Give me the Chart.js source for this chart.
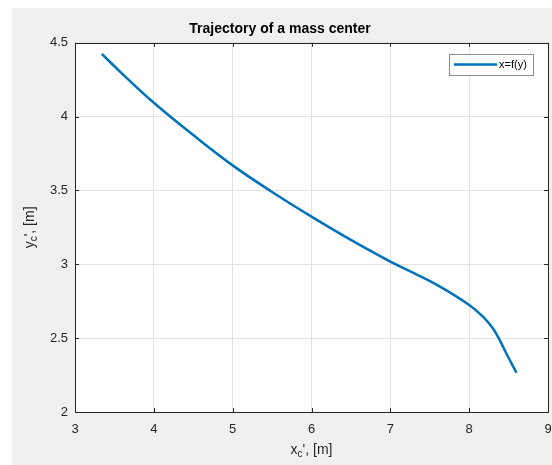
<!DOCTYPE html>
<html>
<head>
<meta charset="utf-8">
<script src="https://cdn.jsdelivr.net/npm/chart.js@4.4.1/dist/chart.umd.min.js"></script>
<style>
  html, body { margin: 0; padding: 0; background: #ffffff; }
  #wrap { width: 552px; height: 465px; }
</style>
</head>
<body>
<div id="wrap"><canvas id="traj" width="552" height="465"></canvas></div>
<script>
// datos
var xc = [3.34, 3.6, 4.0, 4.5, 5.0, 5.5, 6.0, 6.5, 7.0, 7.3, 7.63, 8.0, 8.175, 8.3, 8.386, 8.47, 8.6];
var yc = [4.425, 4.29, 4.094, 3.875, 3.67, 3.49, 3.323, 3.165, 3.018, 2.94, 2.849, 2.725, 2.646, 2.567, 2.488, 2.398, 2.266];
var xTicks = [3, 4, 5, 6, 7, 8, 9];
var yTicks = [2, 2.5, 3, 3.5, 4, 4.5];
var serieLabel = 'x=f(y)';
var titulo = 'Trajectory of a mass center';

var azul = '#0072BD';
var ejes = '#262626';
var fuente = "'Liberation Sans', Arial, sans-serif";

var puntos = xc.map(function(v, i){ return {x: v, y: yc[i]}; });

// texto con subindice: "x" + "c" + "', [m]"
function textoSub(ctx, base, sub, resto, x, y, size){
  ctx.font = size + "px " + fuente;
  var w1 = ctx.measureText(base).width;
  var w3 = ctx.measureText(resto).width;
  ctx.font = Math.round(size*0.72) + "px " + fuente;
  var w2 = ctx.measureText(sub).width;
  var total = w1 + w2 + w3;
  var x0 = x - total/2;
  ctx.textAlign = 'left';
  ctx.textBaseline = 'middle';
  ctx.font = size + "px " + fuente;
  ctx.fillText(base, x0, y);
  ctx.font = Math.round(size*0.72) + "px " + fuente;
  ctx.fillText(sub, x0 + w1, y + size*0.3);
  ctx.font = size + "px " + fuente;
  ctx.fillText(resto, x0 + w1 + w2, y);
}

var estiloMatlab = {
  id: 'estiloMatlab',
  beforeDraw: function(chart){
    var ctx = chart.ctx, a = chart.chartArea;
    ctx.save();
    ctx.fillStyle = '#f0f0f0';
    ctx.fillRect(12, 8, chart.width - 12, chart.height - 8);
    ctx.fillStyle = '#ffffff';
    ctx.fillRect(a.left, a.top, a.right - a.left, a.bottom - a.top);
    ctx.restore();
  },
  afterDraw: function(chart){
    var ctx = chart.ctx, a = chart.chartArea;
    var sx = chart.scales.x, sy = chart.scales.y;
    ctx.save();
    // marcas hacia adentro
    ctx.strokeStyle = ejes;
    ctx.lineWidth = 1;
    ctx.beginPath();
    xTicks.forEach(function(t){
      var p = Math.round(sx.getPixelForValue(t)) + 0.5;
      ctx.moveTo(p, a.bottom); ctx.lineTo(p, a.bottom - 4);
      ctx.moveTo(p, a.top); ctx.lineTo(p, a.top + 4);
    });
    yTicks.forEach(function(t){
      var p = Math.round(sy.getPixelForValue(t)) + 0.5;
      ctx.moveTo(a.left, p); ctx.lineTo(a.left + 4, p);
      ctx.moveTo(a.right, p); ctx.lineTo(a.right - 4, p);
    });
    ctx.stroke();
    // caja
    ctx.strokeRect(Math.round(a.left) + 0.5, Math.round(a.top) + 0.5,
                   Math.round(a.right - a.left), Math.round(a.bottom - a.top));

    // leyenda
    ctx.fillStyle = '#ffffff';
    ctx.fillRect(449, 54, 84, 21);
    ctx.strokeStyle = '#8c8c8c';
    ctx.strokeRect(449.5, 54.5, 84, 21);
    ctx.strokeStyle = azul;
    ctx.lineWidth = 2.5;
    ctx.beginPath();
    ctx.moveTo(454, 64.5); ctx.lineTo(497, 64.5);
    ctx.stroke();
    ctx.fillStyle = '#000000';
    ctx.font = "11px " + fuente;
    ctx.textAlign = 'left';
    ctx.textBaseline = 'middle';
    ctx.fillText(chart.data.datasets[0].label, 499, 65);

    // titulos de ejes
    ctx.fillStyle = ejes;
    textoSub(ctx, 'x', 'c', "', [m]", (a.left + a.right)/2, 450, 14);
    ctx.translate(30, (a.top + a.bottom)/2);
    ctx.rotate(-Math.PI/2);
    textoSub(ctx, 'y', 'c', "', [m]", 0, 0, 14);
    ctx.restore();
  }
};

var config = {
  type: 'scatter',
  data: {
    datasets: [{
      label: serieLabel,
      data: puntos,
      showLine: true,
      borderColor: azul,
      backgroundColor: azul,
      borderWidth: 2.5,
      pointRadius: 0,
      tension: 0.4
    }]
  },
  options: {
    responsive: false,
    animation: false,
    layout: { padding: { left: 12, top: 8, right: 4, bottom: 0 } },
    plugins: {
      legend: { display: false },
      tooltip: { enabled: false },
      title: {
        display: true,
        text: titulo,
        color: '#000000',
        font: { family: fuente, size: 14, weight: 'bold' },
        padding: { top: 13, bottom: 5 }
      }
    },
    scales: {
      x: {
        type: 'linear',
        min: 3, max: 9,
        afterBuildTicks: function(s){ s.ticks = xTicks.map(function(v){ return {value: v}; }); },
        afterFit: function(s){ s.height = 53; s.paddingLeft = 0; s.paddingRight = 0; },
        grid: { color: '#e3e3e3', drawTicks: false },
        border: { display: false },
        ticks: {
          color: ejes, padding: 10,
          font: { family: fuente, size: 13 },
          callback: function(v){ return String(v); }
        }
      },
      y: {
        type: 'linear',
        min: 2, max: 4.5,
        afterBuildTicks: function(s){ s.ticks = yTicks.map(function(v){ return {value: v}; }); },
        afterFit: function(s){ s.width = 63; },
        grid: { color: '#e3e3e3', drawTicks: false },
        border: { display: false },
        ticks: {
          color: ejes, padding: 7,
          font: { family: fuente, size: 13 },
          callback: function(v){ return String(v); }
        }
      }
    }
  },
  plugins: [estiloMatlab]
};

window.myChart = new Chart(document.getElementById('traj'), config);
</script>
</body>
</html>
